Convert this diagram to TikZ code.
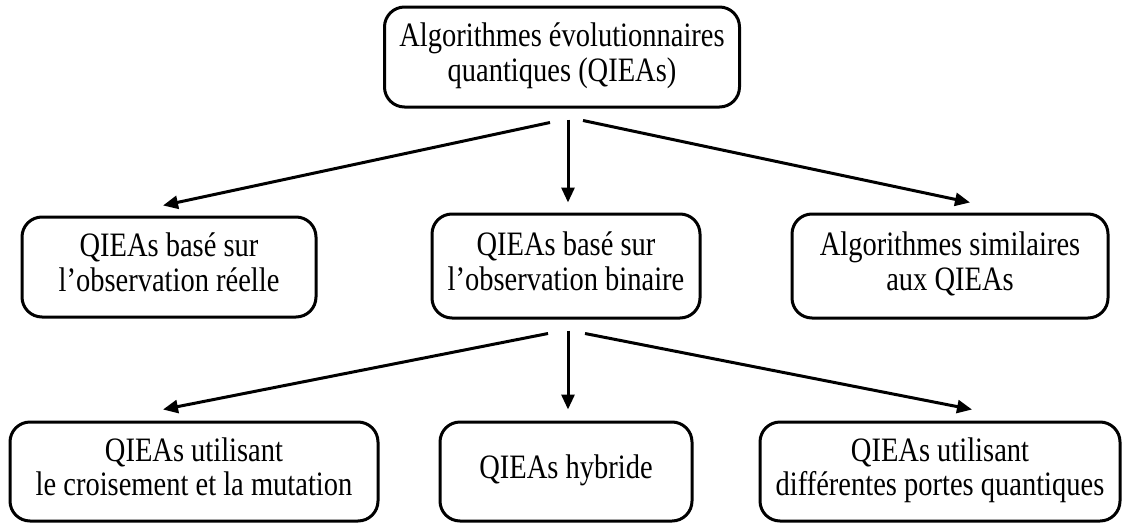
\documentclass[tikz,border=0pt]{standalone}
\usepackage{fontspec}
\setmainfont{Liberation Serif}
\usetikzlibrary{arrows.meta,calc}
% box labels: centred lines, set slightly tall
\newcommand\boxlabel[1]{\scalebox{1}[1.2]{\begin{tabular}{@{}c@{}}#1\end{tabular}}}
\begin{document}
\begin{tikzpicture}[x=1pt,y=-1pt,
  box/.style={draw,line width=3pt,rounded corners=20pt,align=center,inner sep=0pt,
    font=\fontsize{28.5}{29}\selectfont},
  link/.style={line width=3pt,-{Triangle[length=15pt,width=13pt]}}]
\useasboundingbox (0,0) rectangle (1124,522);

% classification tree of quantum-inspired evolutionary algorithms
\node[box,minimum width=355pt,minimum height=100pt] (root) at (562,57)
  {\boxlabel{Algorithmes évolutionnaires\\quantiques (QIEAs)}};

\node[box,minimum width=294pt,minimum height=100pt] (reel) at (169,267)
  {\boxlabel{QIEAs basé sur\\l’observation réelle}};
\node[box,minimum width=268pt,minimum height=104pt] (bin) at (566,266)
  {\boxlabel{QIEAs basé sur\\l’observation binaire}};
\node[box,minimum width=316pt,minimum height=104pt] (simi) at (950,266)
  {\boxlabel{Algorithmes similaires\\aux QIEAs}};

\node[box,minimum width=368pt,minimum height=99pt] (croi) at (194,471.5)
  {\boxlabel{QIEAs utilisant\\le croisement et la mutation}};
\node[box,minimum width=252pt,minimum height=99pt] (hyb) at (566,471.5)
  {\boxlabel{QIEAs hybride}};
\node[box,minimum width=360pt,minimum height=99pt] (port) at (940,471.5)
  {\boxlabel{QIEAs utilisant\\différentes portes quantiques}};

% free ends of the connectors, just clear of the boxes
\coordinate (r1) at ($(root.south)+(-12,14)$);
\coordinate (r2) at ($(root.south)+(6,11)$);
\coordinate (r3) at ($(root.south)+(21,12)$);
\coordinate (b1) at ($(bin.south)+(-18,14)$);
\coordinate (b2) at ($(bin.south)+(2,11)$);
\coordinate (b3) at ($(bin.south)+(19,14)$);

\draw[link] (r1) -- ($(reel.north)+(-6,-10)$);
\draw[link] (r2) -- ($(bin.north)+(2,-10)$);
\draw[link] (r3) -- ($(simi.north)+(20,-10)$);

\draw[link] (b1) -- ($(croi.north)+(-31,-11)$);
\draw[link] (b2) -- ($(hyb.north)+(2,-11)$);
\draw[link] (b3) -- ($(port.north)+(32,-11)$);
\end{tikzpicture}
\end{document}
